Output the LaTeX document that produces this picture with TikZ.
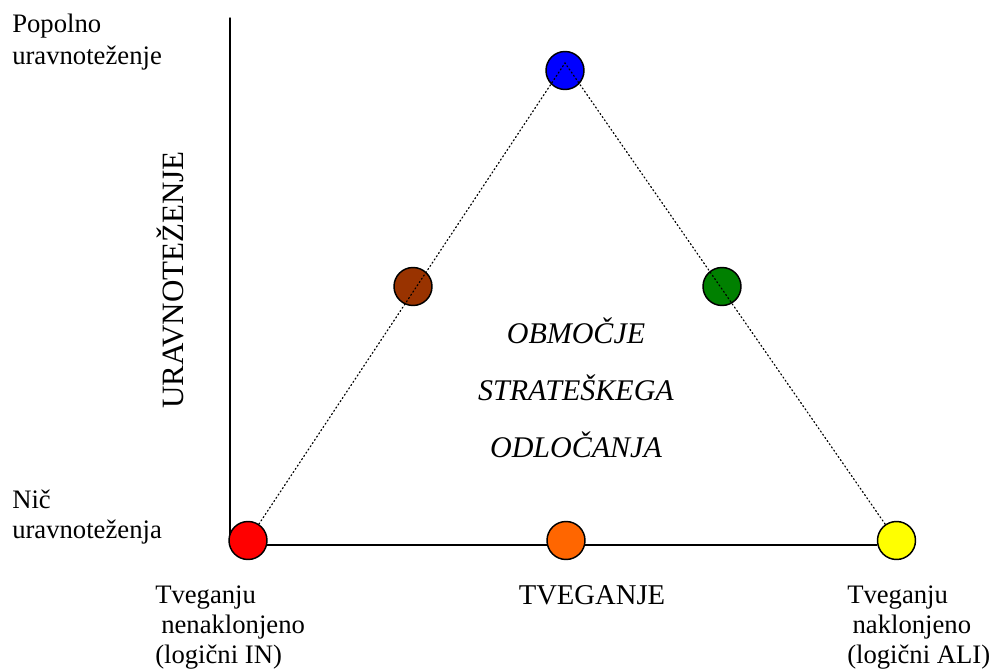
\documentclass[tikz,border=0pt]{standalone}
\usepackage{fontspec}
\setmainfont{Liberation Serif}
\usetikzlibrary{calc,positioning}
\definecolor{modra}{RGB}{0,0,255}
\definecolor{rdeca}{RGB}{255,0,0}
\definecolor{oranzna}{RGB}{255,102,0}
\definecolor{rumena}{RGB}{255,255,0}
\definecolor{zelena}{RGB}{0,128,0}
\definecolor{rjava}{RGB}{153,51,0}
\tikzset{
  ball/.style={circle,draw=black,line width=1.1pt,minimum size=28.5pt,inner sep=0pt,fill=#1},
  axis/.style={line width=1.1pt},
  label/.style={inner sep=0pt,align=left,font=\fontsize{20}{22.5}\selectfont}
}
\begin{document}
\begin{tikzpicture}[x=0.75pt,y=-0.75pt,line cap=round]
        \useasboundingbox (0,0) rectangle (993,670);
        % osi
        \coordinate (vrh) at (230,18);
        \coordinate (izhodisce) at (230,545);
        \coordinate (apex) at (565,63);
        \node[ball=rumena] (ali) at (896.5,540.5) {};
        \draw[axis] (vrh) -- (izhodisce) -- (izhodisce -| ali.west);
        % krogi
        \node[ball=rdeca] (in) at (248,540.5) {};
        \node[ball=oranzna] (sred) at (566,540.5) {};
        \node[ball=modra] (polno) at (565,70.5) {};
        \node[ball=rjava] (levo) at (413,286.5) {};
        \node[ball=zelena] (desno) at (722,286.5) {};
        \draw[dotted,line width=0.9pt] (in) -- (apex) -- (ali);
        % besedila (base = zadnja vrstica)
        \node[label,anchor=base west] (popolno) at (12,65)
              {Popolno\\[1.5pt]uravnoteženje};
        \node[label,anchor=base west] (nic) at (12,538) {Nič\\uravnoteženja};
        \node[label,anchor=base west] (nenakl) at (155,663)
              {Tveganju\\\hspace{4.5pt}nenaklonjeno\\(logični IN)};
        \node[label,anchor=base west] (nakl) at (847,663)
              {Tveganju\\\hspace{4pt}naklonjeno\\(logični ALI)};
        \node[inner sep=0pt,anchor=base,font=\fontsize{21.5}{24}\selectfont]
              (tveganje) at (592,604) {TVEGANJE};
        \node[inner sep=0pt,anchor=base,rotate=90,font=\fontsize{23.25}{26}\selectfont]
              (uravn) at (183,280) {URAVNOTEŽENJE};
        \node[inner sep=0pt,anchor=base,align=center,
              font=\fontsize{22.5}{42.75}\selectfont\itshape]
              (obmocje) at (576,457) {OBMOČJE\\STRATEŠKEGA\\ODLOČANJA};
      \end{tikzpicture}
\end{document}
